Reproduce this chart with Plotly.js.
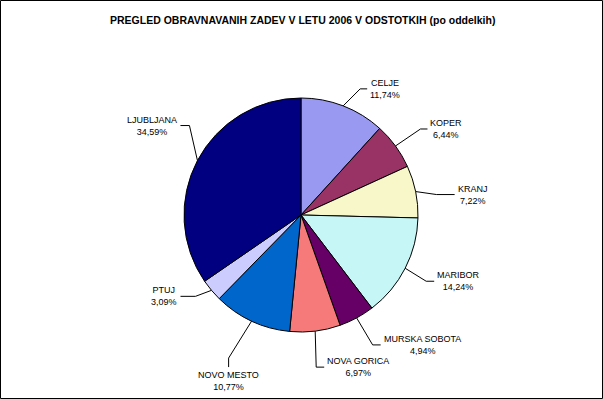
<!DOCTYPE html>
<html><head><meta charset="utf-8">
<script src="https://cdn.plot.ly/plotly-3.0.1.min.js"></script>
<style>html,body{margin:0;padding:0;background:#fff}#c{width:603px;height:399px}</style>
</head><body><div id="c"></div>
<script>
const labels = ["CELJE","KOPER","KRANJ","MARIBOR","MURSKA SOBOTA","NOVA GORICA","NOVO MESTO","PTUJ","LJUBLJANA"];
const values = [11.74, 6.44, 7.22, 14.24, 4.94, 6.97, 10.77, 3.09, 34.59];
const colors = ["#9999F2","#993366","#F7F7C9","#C6F6F6","#660066","#F77A7A","#0066CC","#CCCCFF","#000080"];
// leader line styling per label: [dx, dy from slice edge to elbow, tail length, side]
const leaderStyle = [[17,-17,7,'r'],[25,-17,7,'r'],[21,3,18,'r'],[21,13,8,'r'],[16,27,8,'r'],[1,36,8,'r'],[-23,37,9,'b'],[-16,6,15,'l'],[-8,-35,9,'l']];

const W=603,H=399, CX=301, CY=215, R=117;
const px = x => x/W, py = y => 1 - y/H;
const total = values.reduce((a,b)=>a+b,0);
let cum = 0;
const shapes = [{type:'rect',xref:'paper',yref:'paper',x0:px(0.5),x1:px(W-0.5),y0:py(H-0.5),y1:py(0.5),line:{color:'#000',width:1}}];
const annotations = [{text:'<b>PREGLED OBRAVNAVANIH ZADEV V LETU 2006 V ODSTOTKIH (po oddelkih)</b>',xref:'paper',yref:'paper',x:px(302),y:py(20),xanchor:'center',yanchor:'middle',showarrow:false,font:{family:'Liberation Sans, Arial',size:10.5,color:'#000'}}];
values.forEach((v,i)=>{
  const mid = (cum + v/2)/total*2*Math.PI; cum += v;
  const ax = CX + R*Math.sin(mid), ay = CY - R*Math.cos(mid);
  const [dx,dy,t,side] = leaderStyle[i];
  const ex = ax+dx, ey = ay+dy;
  let fx, fy, tx, ty, xa, ya;
  if (side==='r'){fx=ex+t;fy=ey;tx=fx+1;ty=ey;xa='left';ya='middle';}
  else if (side==='l'){fx=ex-t;fy=ey;tx=fx-1;ty=ey;xa='right';ya='middle';}
  else {fx=ex;fy=ey+t;tx=fx;ty=fy+1;xa='center';ya='top';}
  shapes.push({type:'path',xref:'paper',yref:'paper',path:`M ${px(ax)} ${py(ay)} L ${px(ex)} ${py(ey)} L ${px(fx)} ${py(fy)}`,line:{color:'#000',width:1}});
  annotations.push({text:labels[i]+'<br>'+v.toFixed(2).replace('.',',')+'%',xref:'paper',yref:'paper',x:px(tx),y:py(ty),xanchor:xa,yanchor:ya,align:'center',showarrow:false,font:{family:'Liberation Sans, Arial',size:9,color:'#000'}});
});
Plotly.newPlot('c',[{type:'pie',labels:labels,values:values,sort:false,direction:'clockwise',rotation:0,
  marker:{colors:colors,line:{color:'#000',width:1}},textinfo:'none',hoverinfo:'none',
  domain:{x:[(CX-R)/W,(CX+R)/W],y:[(H-CY-R)/H,(H-CY+R)/H]}}],
  {width:W,height:H,margin:{l:0,r:0,t:0,b:0},showlegend:false,paper_bgcolor:'#fff',shapes:shapes,annotations:annotations},
  {staticPlot:true});
</script></body></html>
